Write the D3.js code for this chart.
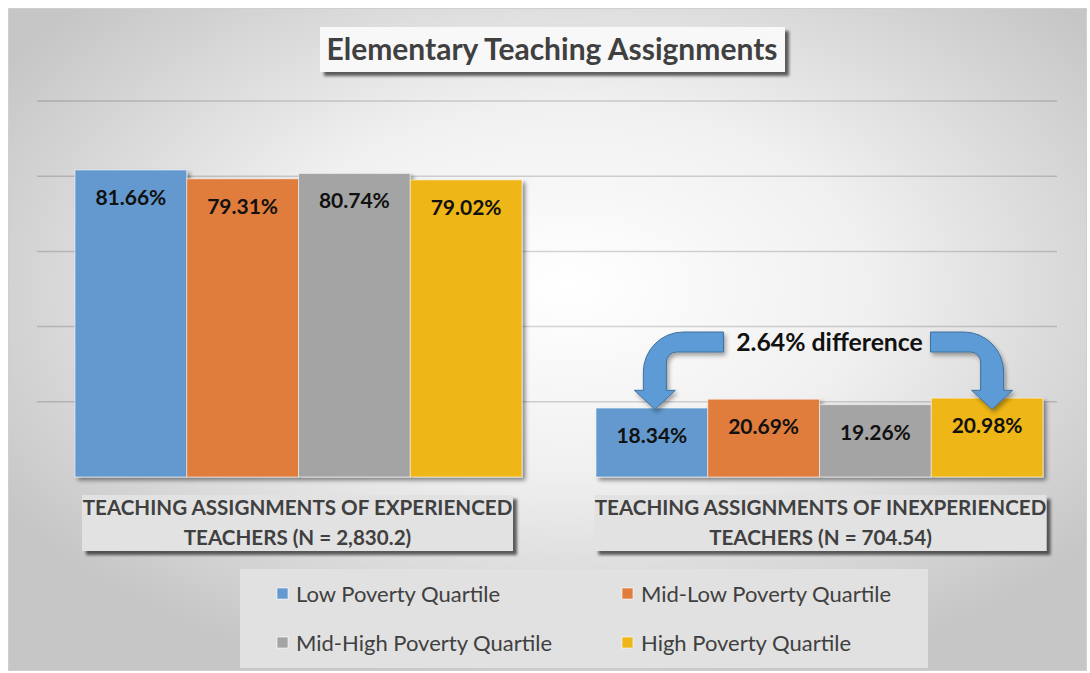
<!DOCTYPE html>
<html>
<head>
<meta charset="utf-8">
<script src="https://cdn.jsdelivr.net/npm/d3@7"></script>
<style>
  html, body { margin: 0; padding: 0; background: #ffffff; }
  svg { display: block; font-family: Lato, "Open Sans", sans-serif; }
</style>
</head>
<body>
<svg id="chart" width="1090" height="673"></svg>
<script>
// Chart data
const categories = ["Experienced", "Inexperienced"];
const categoryLines = [
    ["TEACHING ASSIGNMENTS OF EXPERIENCED", "TEACHERS (N = 2,830.2)"],
    ["TEACHING ASSIGNMENTS OF INEXPERIENCED", "TEACHERS (N = 704.54)"]
];
const seriesNames = ["Low Poverty Quartile", "Mid-Low Poverty Quartile", "Mid-High Poverty Quartile", "High Poverty Quartile"];
const lowPoverty = [0.8166, 0.1834];
const midLowPoverty = [0.7931, 0.2069];
const midHighPoverty = [0.8074, 0.1926];
const highPoverty = [0.7902, 0.2098];
const gridTicks = [0.2, 0.4, 0.6, 0.8, 1.0];
const seriesColors = ["#6399cf", "#e07d3c", "#a4a4a4", "#eeb616"];
const titleText = "Elementary Teaching Assignments";
const noteText = "2.64% difference";

const seriesValues = [lowPoverty, midLowPoverty, midHighPoverty, highPoverty];

const svg = d3.select("#chart");
const defs = svg.append("defs");

// Background gradient (light center, grey edges)
const bg = defs.append("radialGradient")
    .attr("id", "bgGrad")
    .attr("cx", "52%").attr("cy", "42%").attr("r", "62%");
bg.selectAll("stop")
    .data([
        { offset: "0%", color: "#ffffff" },
        { offset: "45%", color: "#f0f0f0" },
        { offset: "100%", color: "#c6c6c6" }
    ])
    .enter().append("stop")
    .attr("offset", d => d.offset)
    .attr("stop-color", d => d.color);

// Drop shadow filter
function addShadow(id, dx, dy, blur, opacity) {
    defs.append("filter")
        .attr("id", id)
        .attr("x", "-20%").attr("y", "-20%").attr("width", "140%").attr("height", "160%")
        .append("feDropShadow")
        .attr("dx", dx).attr("dy", dy)
        .attr("stdDeviation", blur)
        .attr("flood-color", "#000")
        .attr("flood-opacity", opacity);
}
addShadow("shadow", 3, 3, 2, 0.45);
addShadow("shadowSoft", 2, 3, 2, 0.35);
addShadow("shadowBox", 4, 4, 1.5, 0.6);

svg.append("rect")
    .attr("x", 8.5).attr("y", 8.5)
    .attr("width", 1078).attr("height", 662)
    .attr("fill", "url(#bgGrad)")
    .attr("stroke", "#cfcfcf");

// Scales
const x0 = d3.scaleBand().domain(categories).range([38, 1080]);
const x1 = d3.scaleBand().domain(seriesNames).range([0, x0.bandwidth()]).paddingOuter(0.331);
const y = d3.scaleLinear().domain([0, 1]).range([477, 101]);
const color = d3.scaleOrdinal().domain(seriesNames).range(seriesColors);

// Gridlines
svg.append("g")
    .selectAll("line")
    .data(gridTicks)
    .enter().append("line")
    .attr("x1", 37).attr("x2", 1057)
    .attr("y1", d => y(d)).attr("y2", d => y(d))
    .attr("stroke", "rgba(0,0,0,0.16)")
    .attr("stroke-width", 1.5);

// Bars
const barData = [];
categories.forEach((c, ci) => {
    seriesNames.forEach((s, si) => {
        barData.push({ category: c, series: s, value: seriesValues[si][ci] });
    });
});

const bars = svg.append("g");
bars.selectAll("rect")
    .data(barData)
    .enter().append("rect")
    .attr("x", d => x0(d.category) + x1(d.series))
    .attr("y", d => y(d.value))
    .attr("width", x1.bandwidth())
    .attr("height", d => y(0) - y(d.value))
    .attr("fill", d => color(d.series))
    .attr("stroke", "rgba(255,255,255,0.55)")
    .attr("stroke-width", 1)
    .attr("filter", "url(#shadow)");

bars.selectAll("text")
    .data(barData)
    .enter().append("text")
    .attr("x", d => x0(d.category) + x1(d.series) + x1.bandwidth() / 2)
    .attr("y", d => y(d.value) + 35)
    .attr("text-anchor", "middle")
    .attr("font-size", 21)
    .attr("font-weight", "bold")
    .attr("fill", "#111")
    .text(d => (d.value * 100).toFixed(2) + "%");

// Baseline axis
const xAxis = d3.axisBottom(x0).tickSize(0).tickFormat("");
const axisG = svg.append("g")
    .attr("transform", `translate(0,${y(0)})`)
    .call(xAxis);
axisG.select(".domain").remove();
axisG.append("line")
    .attr("x1", 37).attr("x2", 1057)
    .attr("stroke", "#404040")
    .attr("stroke-width", 3.5)
    .attr("filter", "url(#shadowSoft)");

// Category label boxes
const catBoxW = [431, 452];
const catG = svg.append("g")
    .selectAll("g")
    .data(categories)
    .enter().append("g")
    .attr("transform", (d, i) => `translate(${x0(d) + x0.bandwidth() / 2 - (i === 0 ? 1 : -1)},0)`);

catG.append("rect")
    .attr("x", (d, i) => -catBoxW[i] / 2)
    .attr("y", 495)
    .attr("width", (d, i) => catBoxW[i])
    .attr("height", 56)
    .attr("fill", "#e2e2e2")
    .attr("filter", "url(#shadowBox)");

catG.selectAll("text")
    .data((d, i) => categoryLines[i])
    .enter().append("text")
    .attr("x", 0)
    .attr("y", (d, i) => 515 + i * 30)
    .attr("text-anchor", "middle")
    .attr("font-size", 20.6)
    .attr("font-weight", "bold")
    .attr("fill", "#404040")
    .text(d => d);

// Title
const titleG = svg.append("g");
titleG.append("rect")
    .attr("x", 320).attr("y", 27)
    .attr("width", 465).attr("height", 45)
    .attr("fill", "#f8f8f8")
    .attr("filter", "url(#shadowBox)");
titleG.append("text")
    .attr("x", 552).attr("y", 60)
    .attr("text-anchor", "middle")
    .attr("font-size", 30)
    .attr("font-weight", "bold")
    .attr("fill", "#404040")
    .text(titleText);

// Difference annotation with bent arrows
const noteX = x0(categories[1]) + x0.bandwidth() / 2 + 10;
const bandTop = 332;
const bandH = 20;
const shaftW = 23;
const headW = 41;
const headL = 19;
const tipY = y(0.18);

function bentArrow(tipX, endX, s) {
    const outerX = tipX - s * shaftW / 2;
    const innerX = tipX + s * shaftW / 2;
    const R = 40, r = 10;
    const headY = tipY - headL;
    const sw1 = s > 0 ? 0 : 1;
    const sw2 = s > 0 ? 1 : 0;
    return [
        `M${endX},${bandTop}`,
        `L${outerX + s * R},${bandTop}`,
        `A${R},${R} 0 0 ${sw1} ${outerX},${bandTop + R}`,
        `L${outerX},${headY}`,
        `L${tipX - s * headW / 2},${headY}`,
        `L${tipX},${tipY}`,
        `L${tipX + s * headW / 2},${headY}`,
        `L${innerX},${headY}`,
        `L${innerX},${bandTop + bandH + r}`,
        `A${r},${r} 0 0 ${sw2} ${innerX + s * r},${bandTop + bandH}`,
        `L${endX},${bandTop + bandH}`,
        "Z"
    ].join(" ");
}

const leftTip = x0(categories[1]) + x1(seriesNames[0]) + x1.bandwidth() / 2 + 3;
const rightTip = x0(categories[1]) + x1(seriesNames[3]) + x1.bandwidth() / 2 + 5;
const arrows = [
    { tip: leftTip, end: noteX - 106, s: 1 },
    { tip: rightTip, end: noteX + 101, s: -1 }
];

svg.append("g")
    .selectAll("path")
    .data(arrows)
    .enter().append("path")
    .attr("d", d => bentArrow(d.tip, d.end, d.s))
    .attr("fill", "#5b9bd5")
    .attr("stroke", "#41719c")
    .attr("stroke-width", 1)
    .attr("filter", "url(#shadowSoft)");

svg.append("text")
    .attr("x", noteX).attr("y", 351)
    .attr("text-anchor", "middle")
    .attr("font-size", 24.8)
    .attr("font-weight", "bold")
    .attr("fill", "#111")
    .text(noteText);

// Legend
const legend = svg.append("g");
legend.append("rect")
    .attr("x", 240).attr("y", 569)
    .attr("width", 688).attr("height", 99)
    .attr("fill", "#e1e1e1");

const legendItems = legend.selectAll("g")
    .data(seriesNames)
    .enter().append("g")
    .attr("transform", (d, i) => `translate(${i % 2 === 0 ? 277 : 622},${i < 2 ? 594 : 643})`);

legendItems.append("rect")
    .attr("x", 0).attr("y", -6)
    .attr("width", 11).attr("height", 11)
    .attr("fill", d => color(d))
    .attr("stroke", "rgba(255,255,255,0.6)");

legendItems.append("text")
    .attr("x", 19).attr("y", 7.5)
    .attr("font-size", 22)
    .attr("fill", "#404040")
    .text(d => d);
</script>
</body>
</html>
